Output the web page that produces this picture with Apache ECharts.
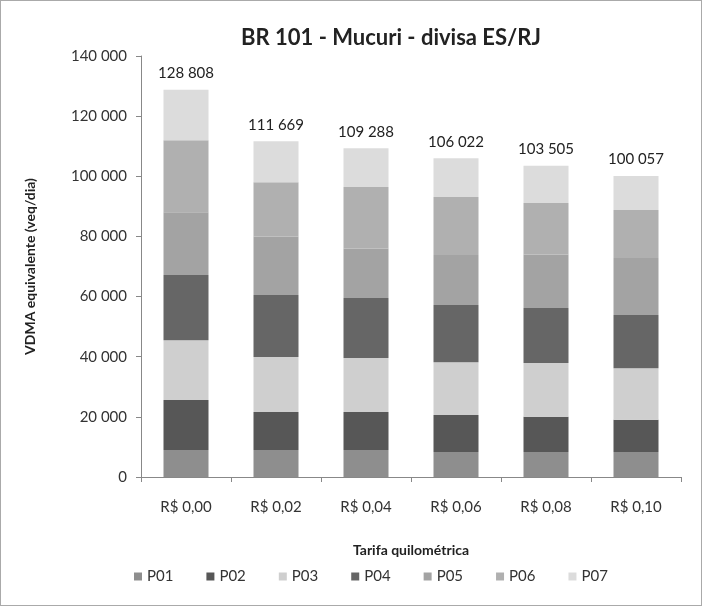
<!DOCTYPE html>
<html>
<head>
<meta charset="utf-8">
<script src="https://cdn.jsdelivr.net/npm/echarts@6/dist/echarts.min.js"></script>
<style>
  html, body { margin: 0; padding: 0; background: #fff; }
  #main { width: 700px; height: 604px; border: 1px solid #aaa; }
</style>
</head>
<body>
<div id="main"></div>
<script>
  // categorias (tarifa)
  var categories = ['R$ 0,00', 'R$ 0,02', 'R$ 0,04', 'R$ 0,06', 'R$ 0,08', 'R$ 0,10'];
  // valores, por faixa
  var p01 = [9000, 9000, 9000, 8300, 8300, 8300];
  var p02 = [16600, 12600, 12600, 12300, 11700, 10700];
  var p03 = [19900, 18300, 18000, 17600, 17900, 17200];
  var p04 = [21700, 20600, 19900, 19000, 18300, 17700];
  var p05 = [20800, 19500, 16500, 16600, 17800, 18900];
  var p06 = [24000, 18000, 20400, 19300, 17100, 16000];
  var p07 = [16808, 13669, 12888, 12922, 12405, 11257];
  var seriesNames = ['P01', 'P02', 'P03', 'P04', 'P05', 'P06', 'P07'];
  var seriesData = [p01, p02, p03, p04, p05, p06, p07];
  var colors = ['#8e8e8e', '#575757', '#cfcfcf', '#666666', '#a3a3a3', '#b0b0b0', '#dcdcdc'];

  var totals = categories.map(function (c, i) {
    return seriesData.reduce(function (s, arr) { return s + arr[i]; }, 0);
  });

  function fmt(v) {
    return String(v).replace(/\B(?=(\d{3})+(?!\d))/g, ' ');
  }

  var font = 'Lato, "Open Sans", sans-serif';
  var chart = echarts.init(document.getElementById('main'));

  var series = seriesNames.map(function (name, k) {
    var s = {
      name: name,
      type: 'bar',
      stack: 'total',
      barWidth: '50%',
      data: seriesData[k],
      itemStyle: { color: colors[k] }
    };
    if (k === seriesNames.length - 1) {
      s.label = {
        show: true,
        position: 'top',
        distance: 9,
        color: '#222',
        fontSize: 15,
        fontFamily: font,
        formatter: function (p) { return fmt(totals[p.dataIndex]); }
      };
    }
    return s;
  });

  chart.setOption({
    animation: false,
    title: {
      text: 'BR 101 - Mucuri - divisa ES/RJ',
      left: 385,
      top: 21,
      textAlign: 'center',
      textStyle: { fontFamily: font, fontSize: 22, fontWeight: 'bold', color: '#222' }
    },
    legend: {
      data: seriesNames,
      top: 563,
      left: 128,
      itemWidth: 8,
      itemHeight: 8,
      itemGap: 33,
      icon: 'rect',
      textStyle: { fontFamily: font, fontSize: 15, color: '#333' }
    },
    grid: { left: 140, right: 20, top: 55, bottom: 128 },
    xAxis: {
      type: 'category',
      data: categories,
      name: 'Tarifa quilométrica',
      nameLocation: 'middle',
      nameGap: 66,
      nameTextStyle: { fontFamily: font, fontSize: 14, fontWeight: 'bold', color: '#222' },
      axisLine: { lineStyle: { color: '#888' } },
      axisTick: { show: true, alignWithLabel: false, lineStyle: { color: '#888' } },
      axisLabel: { fontFamily: font, fontSize: 15, color: '#333', margin: 23 }
    },
    yAxis: {
      type: 'value',
      min: 0,
      max: 140000,
      interval: 20000,
      name: 'VDMA equivalente (veq/dia)',
      nameLocation: 'middle',
      nameGap: 104,
      nameTextStyle: { fontFamily: font, fontSize: 14, fontWeight: 'bold', color: '#222' },
      axisLine: { show: true, lineStyle: { color: '#888' } },
      axisTick: { show: true, lineStyle: { color: '#888' } },
      splitLine: { show: false },
      axisLabel: {
        fontFamily: font, fontSize: 15, color: '#333', margin: 14,
        formatter: function (v) { return fmt(v); }
      }
    },
    series: series
  });
</script>
</body>
</html>
